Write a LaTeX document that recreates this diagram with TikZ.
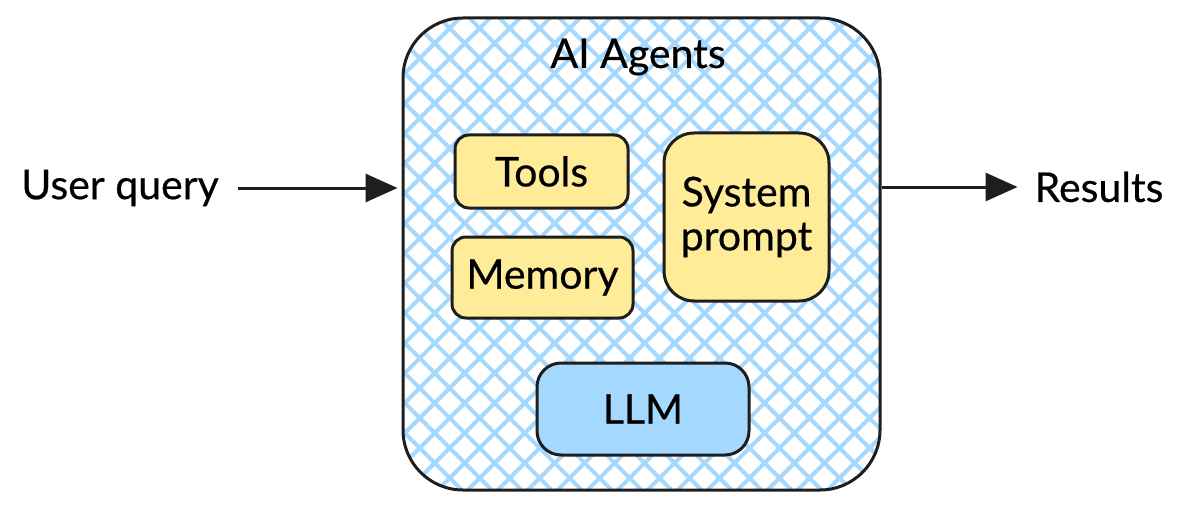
\documentclass[tikz,border=0pt]{standalone}
\usepackage{fontspec}
\setmainfont{Lato}[FakeBold=0.5]
\usepackage{tikz}
\usetikzlibrary{arrows.meta, patterns.meta}
\definecolor{inkblack}{HTML}{1E1E1E}
\definecolor{hatchblue}{HTML}{A5D8FF}
\definecolor{partyellow}{HTML}{FFEC99}
\definecolor{llmblue}{HTML}{A5D8FF}

\begin{document}
\begin{tikzpicture}[
  x=0.5pt, y=-0.5pt,
  font=\fontsize{20.5}{23}\selectfont,
  agentbox/.style={rectangle, rounded corners=30pt, draw=inkblack, line width=1.5pt,
              minimum width=238.5pt, minimum height=236pt,
              preaction={pattern={Lines[angle=45, distance=10.6pt, line width=2pt]}, pattern color=hatchblue},
              preaction={pattern={Lines[angle=-45, distance=10.6pt, line width=2pt]}, pattern color=hatchblue}},
  part/.style={rectangle, rounded corners=7pt, draw=inkblack, fill=partyellow, line width=1.5pt,
              align=center, inner sep=0pt},
  arr/.style={-{Triangle[length=16pt, width=14pt]}, line width=1.5pt, draw=inkblack}
]
\useasboundingbox (0,0) rectangle (1188,508);

\node[agentbox] (agent) at (641.5,254) {};
\node[anchor=center] (title) at (638,57) {AI Agents};

\node[part, minimum width=86.5pt, minimum height=36.5pt] (tools) at (541.5,171.5) {Tools};
\node[part, minimum width=90.5pt, minimum height=40.5pt] (memory) at (542.5,277.5) {Memory};
\node[part, rounded corners=15pt, minimum width=82.5pt, minimum height=84pt] (prompt) at (746.5,217) {System\\[-1pt]prompt};
\node[part, fill=llmblue, rounded corners=12pt, minimum width=106pt, minimum height=46pt] (llm) at (643,409) {LLM};

\node (query) at (120,188) {User query};
\node (results) at (1099,187) {Results};

\draw[arr, shorten <=6pt, shorten >=2pt] (query.east) -- (query.east -| agent.west);
\draw[arr, shorten >=5pt] (results.west -| agent.east) -- (results.west);
\end{tikzpicture}
\end{document}
